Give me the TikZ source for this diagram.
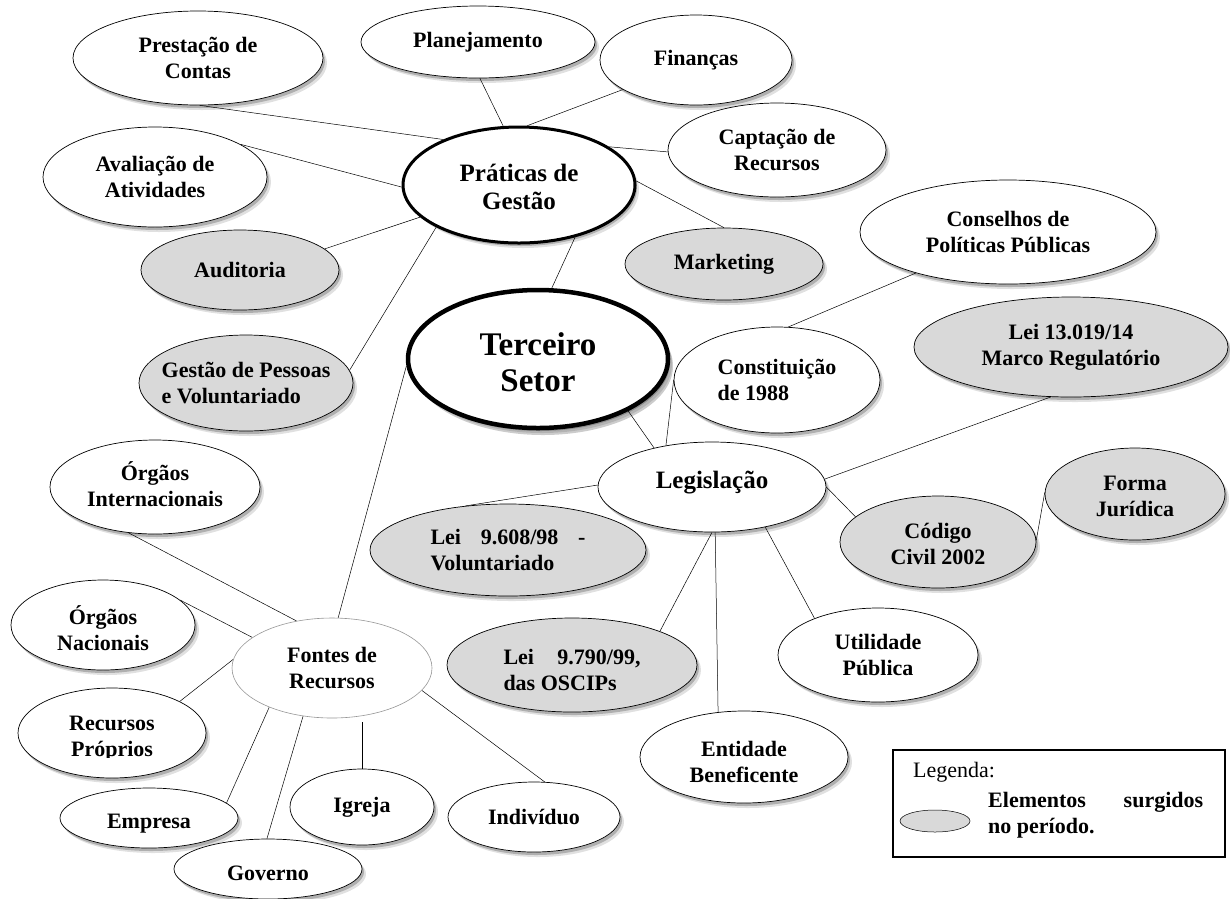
\documentclass[tikz,border=0pt]{standalone}
\usepackage{fontspec}
\setmainfont{Liberation Serif}
\usetikzlibrary{shapes.geometric,shadows,backgrounds,calc}
\definecolor{lgray}{RGB}{217,217,217}
\definecolor{fgray}{RGB}{150,150,150}
\tikzset{
    bub/.style={ellipse, draw, fill=white, inner sep=0pt, line width=0.7pt,
        drop shadow={shadow xshift=2pt, shadow yshift=-3pt, opacity=.22, fill=black},
        drop shadow={shadow xshift=4pt, shadow yshift=-5pt, opacity=.12, fill=black}},
    new/.style={bub, fill=lgray},
    key/.style={bub, line width=3pt},
    src/.style={ellipse, draw=fgray, fill=white, inner sep=0pt, line width=0.6pt},
    sz/.style 2 args={minimum width=#1pt, minimum height=#2pt},
    txt/.style={font=\bfseries\fontsize{22}{26}\selectfont, align=center, inner sep=0pt},
    tx/.style={label={[txt]center:{#1}}},
    txl/.style={label={[txt,align=left]center:{#1}}},
    link/.style={line width=0.5pt}
}

\begin{document}
\begin{tikzpicture}[x=1pt,y=-1pt]
    \useasboundingbox (0,0) rectangle (1230,898);

    % gestao
    \node[key, sz={232}{116}, label={[txt,font=\bfseries\fontsize{25}{28}\selectfont,yshift=-2pt]center:{Práticas de\\Gestão}}] (pg) at (519,185) {};
    \node[bub, sz={250}{94}, tx={Prestação de\\Contas}] (pc) at (198,58) {};
    \node[bub, sz={234}{72}, tx={Planejamento}] (pl) at (478,42) {};
    \node[bub, sz={192}{90}, tx={Finanças}] (fi) at (696,60) {};
    \node[bub, sz={218}{94}, tx={Captação de\\Recursos}] (ca) at (777,150) {};
    \node[bub, sz={224}{100}, tx={Avaliação de\\Atividades}] (av) at (155,177) {};
    \node[new, sz={198}{80}, tx={Auditoria}] (au) at (240,270) {};
    \node[new, sz={198}{72}, tx={Marketing}] (mk) at (724,264) {};
    \node[new, sz={214}{96}, txl={Gestão de Pessoas\\e Voluntariado}] (gp) at (246,383) {};

    % centro
    \node[key, line width=4.5pt, sz={260}{138},
        drop shadow={shadow xshift=5pt, shadow yshift=-7pt, opacity=.2, fill=black},
        label={[txt,font=\bfseries\fontsize{33}{36}\selectfont,yshift=-3pt]center:{Terceiro\\Setor}}] (ts) at (538,359) {};

    % legislacao
    \node[bub, sz={228}{90}, label={[txt,font=\bfseries\fontsize{25}{28}\selectfont,yshift=4pt]center:{Legislação}}] (lg) at (712,487) {};
    \node[bub, sz={296}{104}, tx={Conselhos de\\Políticas Públicas}] (co) at (1008,232) {};
    \node[new, sz={314}{100}, tx={Lei 13.019/14\\Marco Regulatório}] (lm) at (1071,347) {};
    \node[bub, sz={206}{106}, txl={Constituição\\de 1988}] (cn) at (777,380) {};
    \node[new, sz={276}{92}, txl={\makebox[155pt][s]{Lei 9.608/98 -}\\Voluntariado}] (lv) at (508,550) {};
    \node[new, sz={196}{92}, label={[txt,yshift=-2pt]center:{Código\\Civil 2002}}] (cc) at (938,542) {};
    \node[new, sz={180}{92}, label={[txt,yshift=-2pt]center:{Forma\\Jurídica}}] (fj) at (1135,494) {};
    \node[new, sz={250}{94}, label={[txt,align=left,yshift=-5pt]center:{\makebox[137pt][s]{Lei 9.790/99,}\\das OSCIPs}}] (os) at (572,665) {};
    \node[bub, sz={200}{94}, tx={Utilidade\\Pública}] (ut) at (878,655) {};
    \node[bub, sz={208}{92}, label={[txt,yshift=-5pt]center:{Entidade\\Beneficente}}] (eb) at (744,757) {};

    % fontes de recursos
    \node[src, sz={200}{100}, tx={Fontes de\\Recursos}] (fr) at (332,668) {};
    \node[bub, sz={210}{94}, label={[txt,yshift=3pt]center:{Órgãos\\Internacionais}}] (oi) at (155,487) {};
    \node[bub, sz={184}{90}, label={[txt,yshift=-3pt]center:{Órgãos\\Nacionais}}] (on) at (103,625) {};
    \node[bub, sz={188}{90}] (rp) at (112,733) {};
    \begin{scope}
        \clip (0,700) rectangle (240,757);
        \node[txt] (rp-t) at (112,739) {Recursos\\Próprios};
    \end{scope}
    \node[bub, sz={178}{60}, label={[txt,yshift=-6pt]center:{Empresa}}] (em) at (149,818) {};
    \node[bub, sz={188}{60}, label={[txt,yshift=-4pt]center:{Governo}}] (gv) at (268,869) {};
    \node[bub, sz={144}{76}, tx={Igreja}] (ig) at (362,807) {};
    \node[bub, sz={172}{70}, tx={Indivíduo}] (iv) at (534,817) {};

    % legenda
    \node[draw, line width=1.2pt, sz={332}{107}, inner sep=0pt] (leg) at (1059,803.5) {};
    \node[anchor=west, inner sep=0pt, font=\fontsize{22}{25}\selectfont] (leg-h) at (913,772) {Legenda:};
    \node[ellipse, draw, fill=lgray, line width=0.5pt, sz={70}{22}, inner sep=0pt] (leg-e) at (935,821) {};
    \node[txt, align=left, anchor=west] (leg-t) at (988,815.5) {\makebox[215pt][s]{Elementos surgidos}\\no período.};

    \begin{scope}[on background layer]
        \draw[link] (pc.-88) -- (pg.149);
        \draw[link] (pl.-87) -- (pg.105);
        \draw[link] (fi.-158) -- (pg.82);
        \draw[link] (ca.181) -- (pg.23);
        \draw[link] (av.21) -- (pg.181);
        \draw[link] (au.14) -- (pg.-162);
        \draw[link] (gp.7) -- (pg.-153);
        \draw[link] (mk.90) -- (pg.2);
        \draw[link] (pg.-43) -- (ts.79);
        \draw[link] (ts.183) -- (fr.83);
        \draw[link] (ts.-30) -- (lg.146);
        \draw[link] (cn.180) -- (lg.138);
        \draw[link] (cn.78) -- (co.-156);
        \draw[link] (lm.-112) -- (lg.4);
        \draw[link] (lg.0) -- (cc.163);
        \draw[link] (cc.1) -- (fj.179);
        \draw[link] (lg.-37) -- (ut.150);
        \draw[link] (lg.-90) -- (os.21);
        \draw[link] (lg.-86) -- (eb.120);
        \draw[link] (lv.134) -- (lg.179);
        \draw[link] (oi.-120) -- (fr.127);
        \draw[link] (on.18) -- (fr.159);
        \draw[link] (rp.25) -- (fr.175);
        \draw[link] (em.11) -- (fr.-148);
        \draw[link] (gv.92) -- (fr.-121);
        \draw[line width=1pt] (ig.north) -- ($(ig.north |- fr.south)+(0,4)$);
        \draw[link] (iv.73) -- (fr.-14);
    \end{scope}
\end{tikzpicture}
\end{document}
